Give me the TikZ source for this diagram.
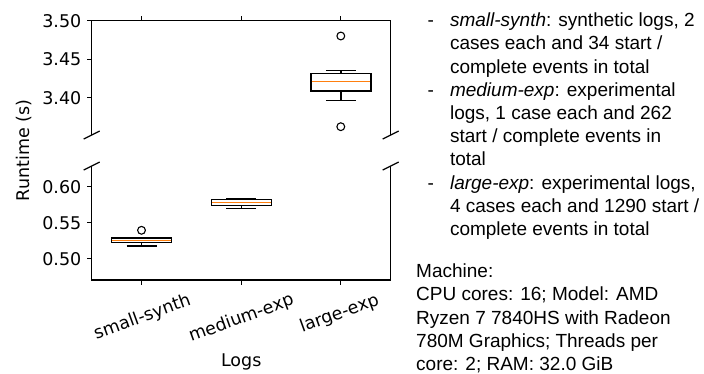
\documentclass[tikz,border=0pt]{standalone}
\usepackage{fontspec}
\usepackage{tikz}
\newfontfamily\plotfont{DejaVu Sans}
\newfontfamily\notefont{Liberation Sans}
\definecolor{medorange}{RGB}{255,127,14}

\begin{document}
\begin{tikzpicture}[x=1pt,y=-1pt,font=\plotfont\fontsize{17.5}{21}\selectfont]
\tikzstyle{spine}=[line width=1.2pt,black]
\tikzstyle{tick}=[line width=1.2pt,black]
\tikzstyle{box line}=[line width=1.4pt,black]
\tikzstyle{median line}=[line width=1.4pt,medorange]
\tikzstyle{flier}=[circle,draw,line width=1.1pt,inner sep=0,minimum size=7.8pt]
\tikzstyle{tick label}=[anchor=east,inner sep=0]
\tikzstyle{note}=[font=\notefont\fontsize{19}{23.2}\selectfont,inner sep=0,anchor=base west]

\useasboundingbox (0,0) rectangle (704,374);

% corners of the two panels
\coordinate (up sw) at (91.7,135);
\coordinate (up nw) at (91.7,20.7);
\coordinate (up ne) at (390.7,20.7);
\coordinate (up se) at (390.7,135);
\coordinate (lo nw) at (91.7,166);
\coordinate (lo sw) at (91.7,280);
\coordinate (lo se) at (390.7,280);
\coordinate (lo ne) at (390.7,166);

% spines
\draw[spine] (up sw) -- (up nw) -- (up ne) -- (up se);
\draw[spine] (lo nw) -- (lo sw) -- (lo se) -- (lo ne);

% x ticks, top of upper panel and bottom of lower panel
\foreach \x in {141.5,241.2,340.8}{
    \draw[tick] (\x,20.7) -- (\x,15.8);
    \draw[tick] (\x,280) -- (\x,284.9);
}

% y ticks
\foreach \y/\v [count=\i] in {20.7/3.50,59.2/3.45,97.7/3.40,186.7/0.60,222.7/0.55,258.7/0.50}{
    \draw[tick] (91.7,\y) -- (86.8,\y);
    \node[tick label] (ytick\i) at (81.5,\y) {\v};
}

% break marks
\foreach \x in {91.7,390.7}
    \foreach \y in {135,166}
        \draw[spine] (\x-8,\y+4) -- (\x+8,\y-4);

% boxes: x / lower whisker / q1 / median / q3 / upper whisker
\foreach \x/\lo/\qa/\md/\qb/\hi in {141.5/246/242.7/240.3/238/237.3,
                                    241.2/208.7/205.3/202.3/199.7/198.7,
                                    340.8/100.3/91.2/81.7/73.3/70.8}{
    \draw[box line] (\x,\qa) -- (\x,\lo);
    \draw[box line] (\x-15,\lo) -- (\x+15,\lo);
    \draw[box line] (\x,\qb) -- (\x,\hi);
    \draw[box line] (\x-15,\hi) -- (\x+15,\hi);
    \draw[box line,fill=white] (\x-30,\qa) rectangle (\x+30,\qb);
    \draw[median line] (\x-29.3,\md) -- (\x+29.3,\md);
}

% outliers
\node[flier] (f1) at (141.5,230.3) {};
\node[flier] (f2) at (340.8,36) {};
\node[flier] (f3) at (340.8,126.7) {};

% x tick labels
\node[rotate=20] (small) at (142.5,317.5) {small-synth};
\node[rotate=20] (medium) at (241.5,318.5) {medium-exp};
\node[rotate=20] (large) at (339.5,314) {large-exp};

% axis labels
\node (xlab) at (241.2,361.7) {Logs};
\node[rotate=90] (ylab) at (24,150.3) {Runtime (s)};

% notes
\node[note] (logs) at (427.5,26.7) {\begin{tabular}[t]{@{}l@{\hspace{16pt}}l@{}}
    - & \textit{small-synth}: synthetic logs, 2\\
      & cases each and 34 start /\\
      & complete events in total\\
    - & \textit{medium-exp}: experimental\\
      & logs, 1 case each and 262\\
      & start / complete events in\\
      & total\\
    - & \textit{large-exp}: experimental logs,\\
      & 4 cases each and 1290 start /\\
      & complete events in total
\end{tabular}};
\node[note] (machine) at (416,277.7) {\begin{tabular}[t]{@{}l@{}}
    Machine:\\
    CPU cores: 16; Model: AMD\\
    Ryzen 7 7840HS with Radeon\\
    780M Graphics; Threads per\\
    core: 2; RAM: 32.0 GiB
\end{tabular}};

\end{tikzpicture}
\end{document}
